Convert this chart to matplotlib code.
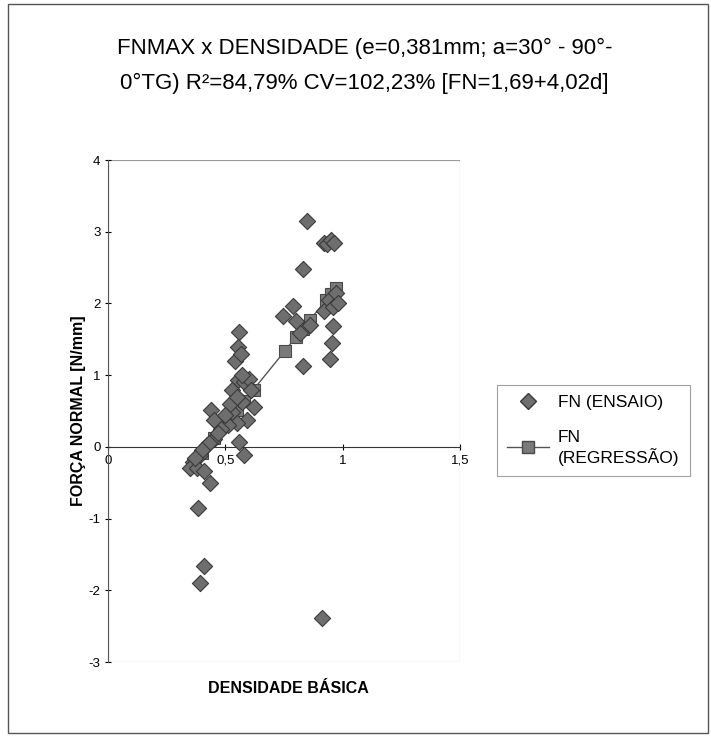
import numpy as np
import matplotlib.pyplot as plt
from matplotlib.patches import Rectangle
from matplotlib.lines import Line2D

plt.rcParams['font.family'] = ['Liberation Sans', 'DejaVu Sans']
plt.rcParams['axes.unicode_minus'] = False

# FN (ENSAIO): densidade basica x forca normal maxima
dens = [0.847, 0.92, 0.935, 0.95, 0.965, 0.83, 0.79, 0.746, 0.92, 0.96,
        0.954, 0.946, 0.83, 0.82, 0.80, 0.86, 0.94, 0.97, 0.96, 0.98,
        0.56, 0.555, 0.54, 0.565, 0.555, 0.58, 0.53, 0.57, 0.44, 0.45,
        0.53, 0.59, 0.55, 0.51, 0.48, 0.45, 0.42, 0.56, 0.58, 0.39,
        0.36, 0.35, 0.38, 0.41, 0.435, 0.385, 0.41, 0.39, 0.91, 0.60,
        0.57, 0.52, 0.50, 0.47, 0.43, 0.40, 0.37, 0.55, 0.61, 0.62]
fn = [3.15, 2.85, 2.83, 2.88, 2.85, 2.48, 1.97, 1.82, 1.90, 1.68,
      1.45, 1.22, 1.13, 1.59, 1.75, 1.70, 2.05, 2.15, 1.95, 2.00,
      1.60, 1.40, 1.20, 1.30, 0.94, 0.90, 0.79, 0.62, 0.52, 0.37,
      0.48, 0.37, 0.34, 0.30, 0.25, 0.11, 0.03, 0.07, -0.11, -0.11,
      -0.21, -0.30, -0.30, -0.34, -0.50, -0.85, -1.66, -1.90, -2.39, 0.95,
      1.00, 0.60, 0.45, 0.20, 0.05, -0.05, -0.15, 0.70, 0.80, 0.55]

# FN (REGRESSAO): pontos da reta ajustada
dens_reg = [0.36, 0.40, 0.45, 0.50, 0.55, 0.58, 0.62, 0.754, 0.80, 0.83, 0.86, 0.93, 0.95, 0.97]
fn_reg = [-0.24, -0.08, 0.12, 0.32, 0.52, 0.64, 0.80, 1.34, 1.53, 1.65, 1.77, 2.05, 2.13, 2.21]

x_ticks = [0, 0.5, 1, 1.5]
x_ticklabels = ['0', '0,5', '1', '1,5']
y_ticks = [-3, -2, -1, 0, 1, 2, 3, 4]

fig = plt.figure(figsize=(7.11, 7.36), dpi=100)
ax = fig.add_axes([0.152, 0.1005, 0.495, 0.682])

ax.plot(dens_reg, fn_reg, color='#555555', lw=1.0, marker='s', ms=8,
        mfc='#7a7a7a', mec='#4a4a4a', mew=0.8, zorder=2)
ax.scatter(dens, fn, marker='D', s=68, c='#6e6e6e', edgecolors='#3a3a3a',
           linewidths=0.8, zorder=3)

ax.set_xlim(0, 1.5)
ax.set_ylim(-3, 4)
ax.set_xticks(x_ticks)
ax.set_xticklabels(x_ticklabels)
ax.set_yticks(y_ticks)
ax.tick_params(axis='both', labelsize=9.5, length=4, width=0.8, direction='inout')

for side in ['top', 'right']:
    ax.spines[side].set_visible(False)
ax.spines['bottom'].set_position(('data', 0))
ax.spines['left'].set_color('#555555')
ax.spines['bottom'].set_color('#333333')
ax.add_patch(Rectangle((0, 0), 1, 1, transform=ax.transAxes, fill=False,
                       ec='#999999', lw=0.8, zorder=0))

ax.set_ylabel('FORÇA NORMAL [N/mm]', fontsize=11.5, fontweight='bold', labelpad=2)
fig.text(0.405, 0.065, 'DENSIDADE BÁSICA', fontsize=11.5, fontweight='bold',
         ha='center', va='center')

fig.text(0.513, 0.934, 'FNMAX x DENSIDADE (e=0,381mm; a=30° - 90°-',
         fontsize=16, ha='center', va='center')
fig.text(0.513, 0.887, '0°TG) R²=84,79% CV=102,23% [FN=1,69+4,02d]',
         fontsize=16, ha='center', va='center')

handles = [
    Line2D([], [], ls='none', marker='D', ms=8, mfc='#6e6e6e', mec='#3a3a3a'),
    Line2D([], [], color='#555555', lw=1.0, marker='s', ms=8, mfc='#7a7a7a', mec='#4a4a4a'),
]
leg = fig.legend(handles, ['FN (ENSAIO)', 'FN\n(REGRESSÃO)'], loc='upper left',
                 bbox_to_anchor=(0.699, 0.477), borderaxespad=0, fontsize=12.5,
                 frameon=True, fancybox=False, edgecolor='#888888',
                 handlelength=2.4, handletextpad=0.5, labelspacing=1.1, borderpad=0.6)
leg.get_frame().set_linewidth(0.8)

fig.add_artist(Rectangle((0.011, 0.004), 0.985, 0.99, transform=fig.transFigure,
                         fill=False, ec='#555555', lw=1.0))

fig.savefig('out.png', dpi=100)
